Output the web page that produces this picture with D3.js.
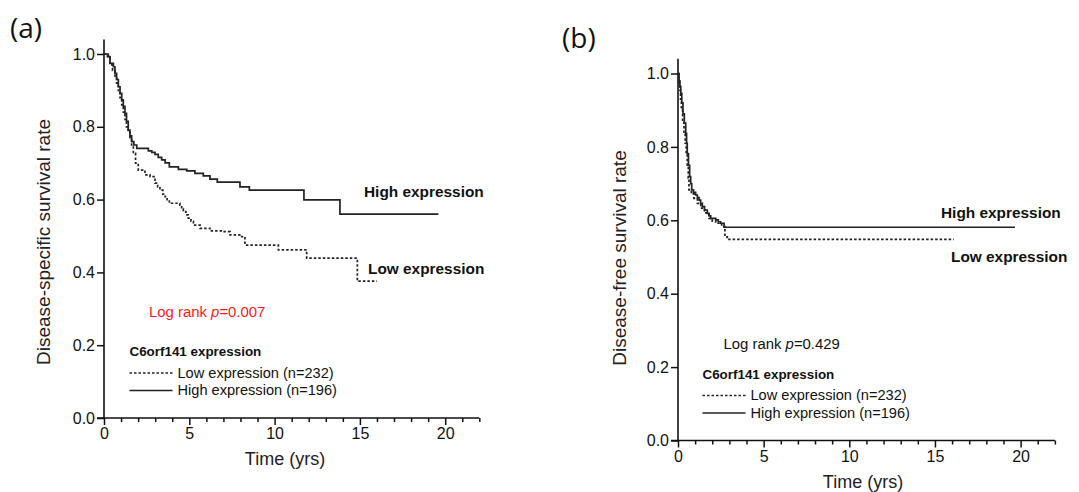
<!DOCTYPE html>
<html>
<head>
<meta charset="utf-8">
<script src="https://cdn.jsdelivr.net/npm/d3@7/dist/d3.min.js"></script>
<style>
  html, body { margin: 0; padding: 0; background: #fff; }
  svg { display: block; font-family: "Liberation Sans", Arial, sans-serif; }
</style>
</head>
<body>
<svg id="chart" width="1079" height="492"></svg>
<script>
// ---------- data (time in years, survival probability) ----------
const xTickValues = d3.range(0, 23);
const xTickLabels = [0, 5, 10, 15, 20];
const yTickValues = [0, 0.2, 0.4, 0.6, 0.8, 1.0];

const dssHighTime = [0,0.25,0.35,0.55,0.64,0.74,0.84,0.94,1.04,1.13,1.23,1.32,1.42,1.52,1.62,1.75,1.92,2.60,2.80,2.99,3.18,3.38,3.58,3.83,4.36,4.85,5.33,5.82,6.21,6.64,7.97,8.52,11.72,13.83,19.6];
const dssHighSurv = [1.0,0.993,0.974,0.965,0.947,0.93,0.91,0.892,0.874,0.856,0.837,0.815,0.791,0.775,0.759,0.75,0.741,0.734,0.730,0.724,0.716,0.709,0.701,0.690,0.683,0.679,0.672,0.665,0.656,0.648,0.635,0.626,0.599,0.56,0.56];

const dssLowTime = [0,0.2,0.35,0.5,0.64,0.74,0.84,0.94,1.04,1.13,1.23,1.32,1.42,1.52,1.62,1.72,1.85,2.01,2.40,2.70,2.99,3.15,3.28,3.45,3.58,3.70,3.83,4.45,4.55,4.65,4.80,4.94,5.1,5.24,5.63,6.21,6.99,7.39,8.07,8.26,10.22,11.88,14.85,16.0];
const dssLowSurv = [1.0,0.99,0.97,0.955,0.94,0.92,0.9,0.88,0.86,0.84,0.82,0.80,0.785,0.77,0.75,0.727,0.70,0.681,0.668,0.663,0.645,0.635,0.626,0.615,0.608,0.60,0.590,0.585,0.575,0.567,0.558,0.549,0.54,0.53,0.521,0.514,0.512,0.503,0.498,0.475,0.462,0.439,0.376,0.376];

const dfsHighTime = [0,0.06,0.11,0.16,0.22,0.29,0.37,0.45,0.5,0.54,0.61,0.68,0.74,0.80,0.9,1.03,1.13,1.23,1.32,1.42,1.55,1.71,1.81,1.91,2.2,2.35,2.49,2.69,19.67];
const dfsHighSurv = [1.0,0.98,0.965,0.946,0.92,0.89,0.865,0.837,0.81,0.782,0.75,0.719,0.70,0.683,0.676,0.669,0.662,0.655,0.646,0.637,0.628,0.619,0.612,0.605,0.601,0.596,0.592,0.581,0.581];

const dfsLowTime = [0,0.05,0.1,0.15,0.2,0.27,0.35,0.42,0.48,0.54,0.6,0.64,0.78,0.93,1.13,1.33,1.55,1.81,2.0,2.2,2.55,2.74,2.88,2.98,16.1];
const dfsLowSurv = [1.0,0.975,0.955,0.93,0.9,0.87,0.84,0.81,0.78,0.75,0.715,0.683,0.672,0.66,0.646,0.633,0.62,0.605,0.598,0.592,0.583,0.555,0.551,0.548,0.548];

const legendTitle = "C6orf141 expression";
const legendLow = "Low expression (n=232)";
const legendHigh = "High expression (n=196)";

// ---------- drawing ----------
const svg = d3.select("#chart");

function zip(t, s) { return t.map((v, i) => ({ t: v, s: s[i] })); }

function drawPanel(cfg) {
  const x = d3.scaleLinear().domain([0, 22]).range([cfg.x0, cfg.x0 + 22 * cfg.pxPerYr]);
  const y = d3.scaleLinear().domain([0, 1]).range([cfg.yBottom, cfg.yTop]);
  const g = svg.append("g");

  // Y axis
  const yAxis = d3.axisLeft(y).tickValues(yTickValues).tickFormat(d3.format(".1f"))
    .tickSize(7).tickSizeOuter(0).tickPadding(2);
  const ya = g.append("g").attr("transform", `translate(${cfg.x0},0)`).call(yAxis);
  ya.select(".domain").remove();
  ya.selectAll("line").attr("stroke", "#111").attr("stroke-width", 1.5);
  ya.selectAll("text").attr("font-size", 16).attr("fill", "#111")
    .attr("font-family", "Liberation Sans, Arial, sans-serif");
  g.append("line").attr("x1", cfg.x0).attr("x2", cfg.x0)
    .attr("y1", y(0) + 0.75).attr("y2", y(1.04))
    .attr("stroke", "#111").attr("stroke-width", 1.6);

  // X axis
  const xAxis = d3.axisBottom(x).tickValues(xTickValues)
    .tickFormat(d => xTickLabels.includes(d) ? d : "")
    .tickSize(7).tickSizeOuter(0).tickPadding(3);
  const xa = g.append("g").attr("transform", `translate(0,${y(0)})`).call(xAxis);
  xa.select(".domain").remove();
  xa.selectAll(".tick line")
    .attr("y2", d => xTickLabels.includes(d) ? 7 : 4)
    .attr("stroke", "#111").attr("stroke-width", 1.5);
  xa.selectAll("text").attr("font-size", 16).attr("fill", "#111")
    .attr("font-family", "Liberation Sans, Arial, sans-serif");
  g.append("line").attr("x1", cfg.x0 - 7).attr("x2", x(22))
    .attr("y1", y(0)).attr("y2", y(0))
    .attr("stroke", "#111").attr("stroke-width", 1.6);

  // Curves
  const line = d3.line().x(d => x(d.t)).y(d => y(d.s)).curve(d3.curveStepAfter);
  g.append("path").datum(zip(cfg.lowT, cfg.lowS)).attr("d", line)
    .attr("fill", "none").attr("stroke", "#222").attr("stroke-width", 1.7)
    .attr("stroke-dasharray", "2.5,2");
  g.append("path").datum(zip(cfg.highT, cfg.highS)).attr("d", line)
    .attr("fill", "none").attr("stroke", "#222").attr("stroke-width", 1.7);

  // Curve labels
  g.append("text").attr("x", cfg.highLbl[0]).attr("y", cfg.highLbl[1])
    .attr("font-size", 15.4).attr("font-weight", "bold").attr("fill", "#111")
    .text("High expression");
  g.append("text").attr("x", cfg.lowLbl[0]).attr("y", cfg.lowLbl[1])
    .attr("font-size", 15.4).attr("font-weight", "bold").attr("fill", "#111")
    .text("Low expression");

  // Log rank
  const lr = g.append("text").attr("x", cfg.logRank[0]).attr("y", cfg.logRank[1])
    .attr("font-size", 14.9).attr("fill", cfg.logRankColor);
  lr.append("tspan").text("Log rank ");
  lr.append("tspan").attr("font-style", "italic").text("p");
  lr.append("tspan").text("=" + cfg.pValue);

  // Legend
  const lx = cfg.legend[0], ly = cfg.legend[1];
  g.append("text").attr("x", lx).attr("y", ly).attr("font-size", 13.4)
    .attr("font-weight", "bold").attr("fill", "#111").text(legendTitle);
  g.append("line").attr("x1", lx).attr("x2", lx + 43).attr("y1", ly + 17).attr("y2", ly + 17)
    .attr("stroke", "#222").attr("stroke-width", 1.5).attr("stroke-dasharray", "2.5,2");
  g.append("text").attr("x", lx + 48).attr("y", ly + 21.5).attr("font-size", 14.6)
    .attr("fill", "#111").text(legendLow);
  g.append("line").attr("x1", lx).attr("x2", lx + 43).attr("y1", ly + 34.5).attr("y2", ly + 34.5)
    .attr("stroke", "#222").attr("stroke-width", 1.5);
  g.append("text").attr("x", lx + 48).attr("y", ly + 39).attr("font-size", 14.6)
    .attr("fill", "#111").text(legendHigh);

  // Axis titles
  g.append("text").attr("transform", `translate(${cfg.yTitle[0]},${cfg.yTitle[1]}) rotate(-90)`)
    .attr("text-anchor", "middle").attr("font-size", 19).attr("fill", "#222").text(cfg.yTitleText);
  g.append("text").attr("x", cfg.xTitle[0]).attr("y", cfg.xTitle[1])
    .attr("text-anchor", "middle").attr("font-size", 18).attr("fill", "#222").text("Time (yrs)");

  // Panel label
  g.append("text").attr("x", cfg.panelLbl[0]).attr("y", cfg.panelLbl[1])
    .attr("font-size", 28).attr("fill", "#111")
    .attr("font-family", "Open Sans, Noto Sans, sans-serif").text(cfg.panelText);
}

drawPanel({
  x0: 104, pxPerYr: 17.06, yBottom: 418, yTop: 54,
  lowT: dssLowTime, lowS: dssLowSurv, highT: dssHighTime, highS: dssHighSurv,
  highLbl: [364, 197], lowLbl: [368, 274],
  logRank: [149, 317], logRankColor: "#ff1a1a", pValue: "0.007",
  legend: [129.5, 356],
  yTitle: [50, 242], yTitleText: "Disease-specific survival rate",
  xTitle: [285, 465],
  panelLbl: [10, 38], panelText: "(a)"
});

drawPanel({
  x0: 678, pxPerYr: 17.13, yBottom: 440.5, yTop: 73.5,
  lowT: dfsLowTime, lowS: dfsLowSurv, highT: dfsHighTime, highS: dfsHighSurv,
  highLbl: [941, 218], lowLbl: [951, 262],
  logRank: [723.5, 348.5], logRankColor: "#111", pValue: "0.429",
  legend: [702.5, 378.5],
  yTitle: [626, 258], yTitleText: "Disease-free survival rate",
  xTitle: [863, 488],
  panelLbl: [562, 48], panelText: "(b)"
});
</script>
</body>
</html>
